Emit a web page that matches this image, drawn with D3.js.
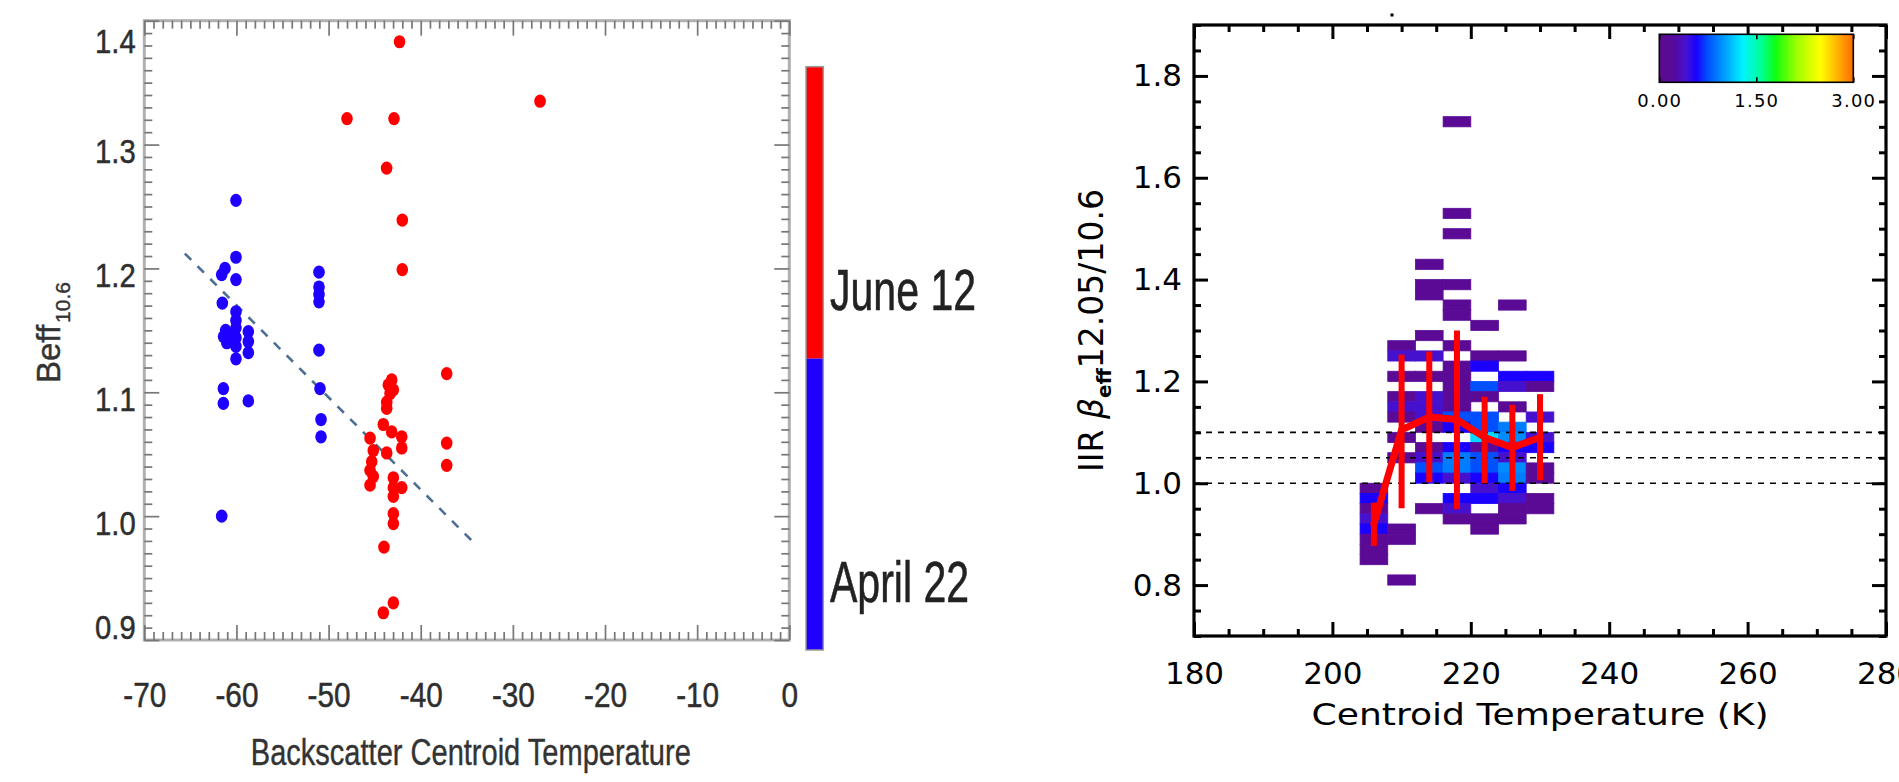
<!DOCTYPE html>
<html><head><meta charset="utf-8">
<script src="https://cdn.jsdelivr.net/npm/d3@7"></script>
<style>body{margin:0;background:#fff;} svg{display:block;}</style>
</head><body>
<svg id="chart" width="1899" height="782"></svg>
<script>
// ================= LEFT PANEL DATA =================
const aprilTemp = [-60.05,-60.05,-61.24,-61.6,-60.05,-61.53,-60.05,-60.05,-61.17,-60.05,-61.4,-61.05,-60.05,-60.05,-60.05,-58.71,-58.71,-58.71,-60.7,-61.42,-61.42,-58.71,-61.6,-51.04,-51.04,-51.04,-51.04,-51.04,-50.93,-50.82,-50.82];
const aprilBeff = [1.255,1.209,1.200,1.195,1.191,1.172,1.165,1.158,1.150,1.152,1.145,1.140,1.144,1.137,1.127,1.149,1.141,1.132,1.145,1.103,1.091,1.093,1.000,1.197,1.185,1.179,1.173,1.134,1.103,1.078,1.064];
const juneTemp = [-37.18,-37.18,-37.18,-43.15,-43.52,-43.33,-43.69,-43.69,-42.97,-44.06,-43.15,-42.06,-42.06,-45.5,-45.15,-43.69,-45.32,-45.5,-45.15,-45.5,-42.97,-42.97,-42.06,-42.97,-42.97,-42.97,-43.99,-42.97,-44.06,-42.3,-48.0,-42.9,-43.7,-42.0,-42.0,-27.05];
const juneBeff = [1.115,1.059,1.041,1.110,1.106,1.099,1.092,1.087,1.102,1.074,1.068,1.064,1.055,1.063,1.053,1.051,1.044,1.037,1.032,1.025,1.031,1.023,1.023,1.016,1.002,0.994,0.975,0.930,0.922,1.383,1.321,1.321,1.281,1.239,1.199,1.335];
const fitTemp = [-65.6, -34.3];
const fitBeff = [1.212, 0.979];
const legendDates = ["April 22", "June 12"];
const legendColors = ["#1f00ff", "#ff0000"];
const leftXTicks = [-70,-60,-50,-40,-30,-20,-10,0];
const leftYTicks = [0.9,1.0,1.1,1.2,1.3,1.4];

// ================= RIGHT PANEL DATA =================
const tempBinStarts = [204,208,212,216,220,224,228];
const betaBinStarts = [1.70,1.52,1.48,1.42,1.38,1.36,1.34,1.32,1.30,1.28,1.26,1.24,1.22,1.20,1.18,1.16,1.14,1.12,1.10,1.08,1.06,1.04,1.02,1.00,0.98,0.96,0.94,0.92,0.90,0.88,0.86,0.84,0.80];
const cellDensity = [
  [0,0,0,0.12,0,0,0],
  [0,0,0,0.12,0,0,0],
  [0,0,0,0.12,0,0,0],
  [0,0,0.12,0,0,0,0],
  [0,0,0.12,0.12,0,0,0],
  [0,0,0.12,0,0,0,0],
  [0,0,0,0.12,0,0.12,0],
  [0,0,0,0.12,0,0,0],
  [0,0,0,0,0.12,0,0],
  [0,0,0.12,0,0,0,0],
  [0,0.12,0,0.12,0,0,0],
  [0,0.4,0.4,0,0.12,0.12,0],
  [0,0,0,0.12,0.57,0,0],
  [0,0.12,0.12,0.12,0,0.57,0.57],
  [0,0,0,0.12,0.75,0.4,0.12],
  [0,0.12,0.4,0.12,0.12,0,0],
  [0,0.4,0.4,0.12,0,0.12,0],
  [0,0.12,0.4,0.75,0.75,0,0.4],
  [0,0,0.12,0.57,0.75,0.9,0],
  [0,0.12,0,0,1.2,0.95,0.4],
  [0,0,0.12,0.57,0.12,0.57,0.57],
  [0,0.12,0.4,0.9,0.75,0.4,0],
  [0,0,0.75,0.9,0.75,0.95,0.12],
  [0,0,0.57,0.4,0.57,0.9,0.12],
  [0.12,0,0,0,0.4,0.57,0],
  [0.57,0,0,0.57,0.57,0.4,0.12],
  [0.12,0,0.12,0.4,0,0.12,0.12],
  [0.4,0,0,0.12,0.12,0.12,0],
  [0.57,0.12,0,0,0.12,0,0],
  [0.12,0.12,0,0,0,0,0],
  [0.12,0,0,0,0,0,0],
  [0.12,0,0,0,0,0,0],
  [0,0.12,0,0,0,0,0]
];
const tempBinWidth = 4, betaBinWidth = 0.02;
const meanTemp = [206,210,214,218,222,226,230];
const meanBeta = [0.92,1.105,1.13,1.125,1.09,1.07,1.09];
const errLow  = [0.877,0.951,1.002,0.949,1.000,0.985,1.006];
const errHigh = [0.962,1.253,1.259,1.300,1.170,1.154,1.175];
const refLines = [1.00,1.05,1.10];
const rightXTicks = [180,200,220,240,260,280];
const rightYTicks = [0.8,1.0,1.2,1.4,1.6,1.8];
const colorbarTicks = [0, 1.5, 3];
const colorStops = [[0,"#5e0a8c"],[0.08,"#560a9e"],[0.14,"#4412d4"],[0.19,"#1a00ff"],[0.25,"#0050ff"],[0.34,"#00a0ff"],[0.43,"#00f4ff"],[0.53,"#00ff90"],[0.60,"#10ff10"],[0.71,"#a0ff00"],[0.83,"#ffff00"],[0.93,"#ffa800"],[1.0,"#ff6a00"]];

// ================= DRAW =================
const svg = d3.select("#chart");
const fontL = "'Liberation Sans', Arial, Helvetica, sans-serif";
const fontR = "'DejaVu Sans', Verdana, sans-serif";

function styleTicks(g, color, width){
  g.select(".domain").remove();
  g.selectAll(".tick line").attr("stroke", color).attr("stroke-width", width);
}

// ---------- Left panel ----------
const xL = d3.scaleLinear().domain([-70,0]).range([144.3,789.3]);
const yL = d3.scaleLinear().domain([0.9,1.4]).range([640,20.7]);
const gL = svg.append("g");
const minorXL = d3.range(0,71).map(i => -70 + i).filter(v => v % 10 !== 0);
const minorYL = d3.range(90,141).map(i => i/100).filter(v => Math.round(v*100) % 10 !== 0);

gL.append("rect").attr("x", xL(-70)).attr("y", yL(1.4)).attr("width", xL(0)-xL(-70)).attr("height", yL(0.9)-yL(1.4))
  .attr("fill","none").attr("stroke","#b0b0b0").attr("stroke-width",3);

[[d3.axisBottom(xL).tickValues(minorXL).tickSize(-8).tickFormat(""), `translate(0,${yL(0.9)})`],
 [d3.axisTop(xL).tickValues(minorXL).tickSize(-8).tickFormat(""), `translate(0,${yL(1.4)})`],
 [d3.axisLeft(yL).tickValues(minorYL).tickSize(-8).tickFormat(""), `translate(${xL(-70)},0)`],
 [d3.axisRight(yL).tickValues(minorYL).tickSize(-8).tickFormat(""), `translate(${xL(0)},0)`],
 [d3.axisTop(xL).tickValues(leftXTicks).tickSize(-15).tickFormat(""), `translate(0,${yL(1.4)})`],
 [d3.axisRight(yL).tickValues(leftYTicks).tickSize(-15).tickFormat(""), `translate(${xL(0)},0)`]
].forEach(([ax, tr]) => gL.append("g").attr("transform", tr).call(ax).call(g => styleTicks(g, "#777", 1.7)));

const gxL = gL.append("g").attr("transform", `translate(0,${yL(0.9)})`)
  .call(d3.axisBottom(xL).tickValues(leftXTicks).tickSize(-15).tickPadding(42).tickFormat(d => String(d)))
  .call(g => styleTicks(g, "#777", 1.7));
gxL.selectAll("text").attr("font-family", fontL).attr("font-size", 35).attr("fill", "#2e2e2e")
  .attr("stroke", "#2e2e2e").attr("stroke-width", 0.5)
  .attr("transform", "scale(0.85,1)");

const gyL = gL.append("g").attr("transform", `translate(${xL(-70)},0)`)
  .call(d3.axisLeft(yL).tickValues(leftYTicks).tickSize(-15).tickPadding(10).tickFormat(d3.format(".1f")))
  .call(g => styleTicks(g, "#777", 1.7));
const labelCenter = v => Math.min(Math.max(yL(v) + 7, yL(1.4) + 21), yL(0.9) - 12);
gyL.selectAll("text").attr("font-family", fontL).attr("font-size", 34).attr("fill", "#2e2e2e")
  .attr("stroke", "#2e2e2e").attr("stroke-width", 0.5)
  .attr("y", d => labelCenter(d) - yL(d))
  .attr("transform", "scale(0.86,1)");

gL.append("path").datum(fitTemp.map((t,i) => [t, fitBeff[i]]))
  .attr("d", d3.line().x(d => xL(d[0])).y(d => yL(d[1])))
  .attr("stroke", "#4d6f94").attr("stroke-width", 2.6).attr("stroke-dasharray", "9,9").attr("fill","none");

const seriesL = [
  {temp: aprilTemp, beff: aprilBeff, color: legendColors[0]},
  {temp: juneTemp, beff: juneBeff, color: legendColors[1]}
];
seriesL.forEach(s => {
  gL.append("g").selectAll("ellipse").data(s.temp.map((t,i) => [t, s.beff[i]])).join("ellipse")
    .attr("cx", d => xL(d[0])).attr("cy", d => yL(d[1])).attr("rx", 5.8).attr("ry", 6.6)
    .attr("fill", s.color);
});

gL.append("text").attr("x", (xL(-70)+xL(0))/2 + 4).attr("y", 765).attr("text-anchor","middle")
  .attr("font-family", fontL).attr("font-size", 37).attr("fill","#333")
  .attr("stroke", "#333").attr("stroke-width", 0.4)
  .attr("textLength", 440).attr("lengthAdjust","spacingAndGlyphs")
  .text("Backscatter Centroid Temperature");
const ytL = gL.append("text").attr("transform", "translate(60,383) rotate(-90)")
  .attr("font-family", fontL).attr("font-size", 33).attr("fill","#333")
  .attr("stroke", "#333").attr("stroke-width", 0.4);
ytL.append("tspan").text("Beff");
ytL.append("tspan").attr("font-size", 21).attr("dy", 10).attr("dx", 2).text("10.6");

const legY = d3.scaleBand().domain(legendDates).range([650, 66.7]);
const gLeg = svg.append("g");
gLeg.selectAll("rect.band").data(legendDates).join("rect").attr("class","band")
  .attr("x", 806).attr("width", 17.3).attr("y", d => legY(d)).attr("height", legY.bandwidth())
  .attr("fill", (d,i) => legendColors[i]);
gLeg.append("rect").attr("x", 806).attr("width", 17.3).attr("y", 66.7).attr("height", 650-66.7)
  .attr("fill","none").attr("stroke","#999").attr("stroke-width",1.5);
gLeg.selectAll("text").data(legendDates).join("text")
  .attr("transform", d => `translate(830,${legY(d) + legY.bandwidth() - 48}) scale(0.72,1)`)
  .attr("font-family", fontL).attr("font-size", 57).attr("fill","#222")
  .attr("stroke", "#222").attr("stroke-width", 0.6).text(d => d);

// ---------- Right panel ----------
const xR = d3.scaleLinear().domain([180,280]).range([1194,1886]);
const yR = d3.scaleLinear().domain([0.7,1.9]).range([636,25]);
const color = d3.scaleLinear().domain(colorStops.map(s => s[0]*3)).range(colorStops.map(s => s[1])).clamp(true);
const gR = svg.append("g");

const cells = [];
betaBinStarts.forEach((b, i) => tempBinStarts.forEach((t, j) => {
  const v = cellDensity[i][j];
  if (v > 0) cells.push({t, b, v});
}));
gR.append("g").selectAll("rect").data(cells).join("rect")
  .attr("x", d => xR(d.t)).attr("width", d => xR(d.t + tempBinWidth) - xR(d.t))
  .attr("y", d => yR(d.b + betaBinWidth)).attr("height", d => yR(d.b) - yR(d.b + betaBinWidth))
  .attr("fill", d => color(d.v)).attr("stroke", d => color(d.v)).attr("stroke-width", 0.8);

gR.append("g").selectAll("line").data(refLines).join("line")
  .attr("x1", xR(180)).attr("x2", xR(280)).attr("y1", d => yR(d)).attr("y2", d => yR(d))
  .attr("stroke","#000").attr("stroke-width",1.6).attr("stroke-dasharray","6,6");

gR.append("g").selectAll("line").data(meanTemp).join("line")
  .attr("x1", d => xR(d)).attr("x2", d => xR(d))
  .attr("y1", (d,i) => yR(errLow[i])).attr("y2", (d,i) => yR(errHigh[i]))
  .attr("stroke","#ff0000").attr("stroke-width",6);
gR.append("path").datum(meanTemp.map((t,i) => [t, meanBeta[i]]))
  .attr("d", d3.line().x(d => xR(d[0])).y(d => yR(d[1])))
  .attr("fill","none").attr("stroke","#ff0000").attr("stroke-width",7).attr("stroke-linejoin","round").attr("stroke-linecap","round");

gR.append("rect").attr("x", xR(180)).attr("y", yR(1.9)).attr("width", xR(280)-xR(180)).attr("height", yR(0.7)-yR(1.9))
  .attr("fill","none").attr("stroke","#000").attr("stroke-width",3.2);
const minorXR = d3.range(180,281,5).filter(v => v % 20 !== 0);
const minorYR = d3.range(14,39).map(i => i*0.05).filter((v,i) => (i + 14) % 4 !== 0);
[[d3.axisBottom(xR).tickValues(minorXR).tickSize(-7).tickFormat(""), `translate(0,${yR(0.7)})`],
 [d3.axisTop(xR).tickValues(minorXR).tickSize(-7).tickFormat(""), `translate(0,${yR(1.9)})`],
 [d3.axisTop(xR).tickValues(rightXTicks).tickSize(-14).tickFormat(""), `translate(0,${yR(1.9)})`],
 [d3.axisLeft(yR).tickValues(minorYR).tickSize(-7).tickFormat(""), `translate(${xR(180)},0)`],
 [d3.axisRight(yR).tickValues(minorYR).tickSize(-7).tickFormat(""), `translate(${xR(280)},0)`],
 [d3.axisRight(yR).tickValues(rightYTicks).tickSize(-14).tickFormat(""), `translate(${xR(280)},0)`]
].forEach(([ax, tr]) => gR.append("g").attr("transform", tr).call(ax).call(g => styleTicks(g, "#000", 3)));

const gxR = gR.append("g").attr("transform", `translate(0,${yR(0.7)})`)
  .call(d3.axisBottom(xR).tickValues(rightXTicks).tickSize(-14).tickPadding(26).tickFormat(d3.format("d")))
  .call(g => styleTicks(g, "#000", 3));
gxR.selectAll("text").attr("font-family", fontR).attr("font-size", 31).attr("fill","#000");
const gyR = gR.append("g").attr("transform", `translate(${xR(180)},0)`)
  .call(d3.axisLeft(yR).tickValues(rightYTicks).tickSize(-14).tickPadding(12).tickFormat(d3.format(".1f")))
  .call(g => styleTicks(g, "#000", 3));
gyR.selectAll("text").attr("font-family", fontR).attr("font-size", 31).attr("fill","#000");

gR.append("text").attr("x", (xR(180)+xR(280))/2).attr("y", 725).attr("text-anchor","middle")
  .attr("font-family", fontR).attr("font-size", 31).attr("fill","#000")
  .attr("textLength", 457).attr("lengthAdjust","spacingAndGlyphs")
  .text("Centroid Temperature (K)");
const ytR = gR.append("text")
  .attr("transform", `translate(1103,${(yR(0.7)+yR(1.9))/2}) rotate(-90)`)
  .attr("text-anchor","middle").attr("font-family", fontR).attr("font-size", 33).attr("fill","#000");
ytR.append("tspan").text("IIR ");
ytR.append("tspan").attr("font-style","italic").text("\u03B2");
ytR.append("tspan").attr("font-size", 20).attr("font-weight","bold").attr("dy", 8).text("eff");
ytR.append("tspan").attr("dy", -8).text("12.05/10.6");

gR.append("rect").attr("x", 1390.5).attr("y", 13.5).attr("width", 3).attr("height", 3).attr("fill", "#000");

const cbX = d3.scaleLinear().domain([0,3]).range([1659.3,1853.3]);
const defs = svg.append("defs");
const grad = defs.append("linearGradient").attr("id","cbgrad").attr("x1","0%").attr("x2","100%");
grad.selectAll("stop").data(colorStops).join("stop")
  .attr("offset", d => (d[0]*100) + "%").attr("stop-color", d => d[1]);
const gCb = svg.append("g");
gCb.append("rect").attr("x", cbX(0)).attr("y", 34.3).attr("width", cbX(3)-cbX(0)).attr("height", 48)
  .attr("fill","url(#cbgrad)").attr("stroke","#000").attr("stroke-width",1.6);
gCb.append("g").attr("transform","translate(0,34.3)")
  .call(d3.axisTop(cbX).tickValues(colorbarTicks).tickSize(-5).tickFormat(""))
  .call(g => styleTicks(g, "#000", 1.6));
const gcbAx = gCb.append("g").attr("transform","translate(0,82.3)")
  .call(d3.axisBottom(cbX).tickValues(colorbarTicks).tickSize(-5).tickPadding(12).tickFormat(d3.format(".2f")))
  .call(g => styleTicks(g, "#000", 1.6));
gcbAx.selectAll("text").attr("font-family", fontR).attr("font-size", 18).attr("fill","#000")
  .attr("letter-spacing", 1.2);
</script>
</body></html>
